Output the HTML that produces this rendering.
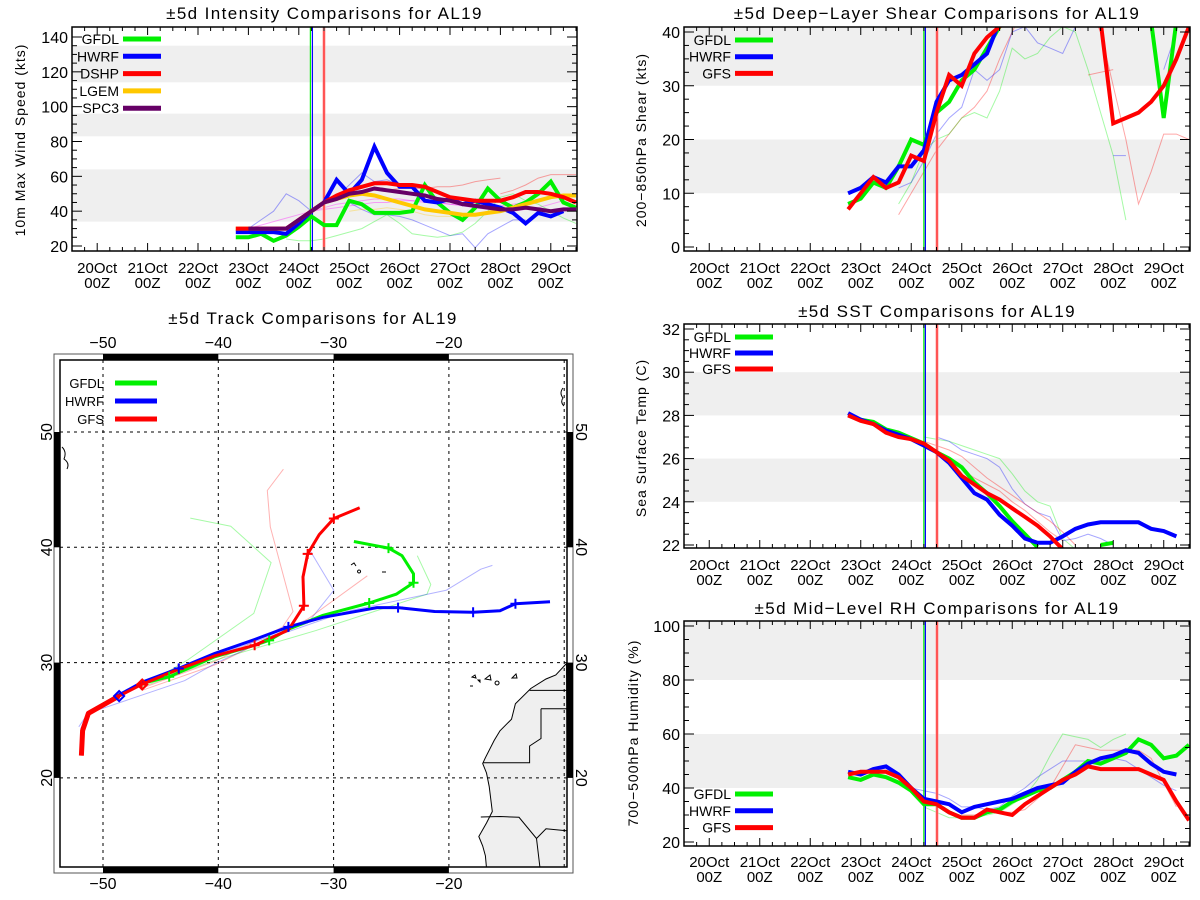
<!DOCTYPE html>
<html><head><meta charset="utf-8"><style>
body{margin:0;background:#fff;}
svg{display:block;font-family:"Liberation Sans",sans-serif;}
</style></head><body>
<svg id="root" width="1200" height="900" viewBox="0 0 1200 900"></svg>
<script>
// ---------- DATA ----------
const T0 = 22.75, DT = 0.25;
const dayLabels = ["20Oct","21Oct","22Oct","23Oct","24Oct","25Oct","26Oct","27Oct","28Oct","29Oct"];
const dayTicks = [20,21,22,23,24,25,26,27,28,29];
// Intensity (kt), 6-hourly from 22.75
const intGFDL = [25,25,27,23,26,31,37,32,32,46,44,39,39,39,40,55,45,39,35,42,53,46,42,45,50,57,45,42];
const intHWRF = [28,28,28,28,27,33,40,45,58,50,58,77,62,54,54,46,45,47,44,46,44,42,39,33,39,37,40,null];
const intDSHP = [30,30,30,30,30,35,40,45,49,52,54,56,56,55,55,54,51,48,47,46,46,46,48,51,51,50,48,45];
const intLGEM = [30,30,30,30,30,35,40,45,47,49,50,49,47,45,43,41,40,39,38,38,39,40,42,44,46,48,49,49];
const intSPC3 = [null,30,30,30,30,35,40,45,47,50,51,53,52,51,50,49,47,46,44,43,42,41,41,42,41,40,41,41];
const intThinMag1 = [30,32,34,36,38,40,41,42,43,44,45,45,46,46,46,45,44,43,42,41,40,40,41,42,44,46];
const intThinMag2 = [40,42,44,45,46,47,47,47,46,45,45,44,44,43,43,43,44,45,47,48,49];
const intThinBlue1 = [30,35,40,50,46,40,44,48,55,62,57,58,55,54,53];
const intThinBlue2 = [45,41,38,38,37,35,32,29,26,27,19,27,31,35,35];
const intThinGreen = [24,23,23,24,26,28,30,34,38,33,27,26,25,26,28,33,40,48,50,46,44,40,36,33];
const intThinRed = [52,52,53,53,53,54,54,55,57,58,59];
const intThinRed2 = [50,52,55,59,61,61,61];
const intThinYel = [40,41,41,42,41,40,38,37,37,37,38,40,42,44];
// Shear (kt)
const shrGFDL = [8,9,12,11,15,20,19,25,27,31,33,37,41,45,45,45,45,45,45,45,45,45,45,45,42,24,42];
const shrHWRF = [10,11,13,12,15,15,18,27,31,32,34,36,42,45];
const shrGFS  = [7,10,13,11,12,17,16,25,32,30,36,39,41,45,45,45,45,45,45,45,42,23,24,25,27,30,35,41];
const shrThinRed1 = [6,10,14,18,21,24,26,29,35,40,45,45,45,45,45,45,40,30,20,8,14,21,21,20];
const shrThinRed2 = [32,32.5,33];
const shrThinGreen1 = [8,12,18,20,21,24,25,24,29,37,35,36,39,41,40];
const shrThinGreen2 = [40,33,25,17,5];
const shrThinBlue1 = [11,12,16,21,24,26,33,31,33,40,41,38,37,36,41];
const shrThinBlue2 = [17,17];
const shrThinBlue3 = [33,40];
// SST (C)
const sstGFDL = [28.0,27.8,27.7,27.35,27.2,26.95,26.7,26.3,26.0,25.6,24.9,24.4,23.8,23.1,22.5,21.9];
const sstGFDL2 = [22.0,22.1];
const sstHWRF = [28.1,27.8,27.6,27.3,27.1,26.9,26.6,26.3,25.8,25.1,24.4,24.1,23.4,22.9,22.3,22.1,22.1,22.4,22.75,22.95,23.05,23.05,23.05,23.05,22.75,22.65,22.4];
const sstGFS  = [28.0,27.75,27.6,27.2,27.0,26.9,26.7,26.3,25.9,25.2,24.8,24.4,24.1,23.7,23.3,22.9,22.4,21.8];
const sstThinGreen = [27.0,26.9,26.8,26.6,26.4,26.2,26.0,25.3,24.5,24.0,23.8,22.3,21.8];
const sstThinBlue = [27.0,26.8,26.4,26.2,26.0,25.6,24.6,23.9,23.5,23.3,22.2,22.3,22.5,22.3,22.0];
const sstThinRed1 = [26.8,26.6,26.4,26.1,25.6,25.1,24.7,24.3,23.9,23.5,23.1,22.6,22.0];
const sstThinRed2 = [25.5,25.1,24.8,24.5,24.0,23.6,23.1,22.6,22.2];
// RH (%)
const rhGFDL = [44,43,45,44,42,39,34,34,31,29,29,31,32,35,37,39,40,43,46,50,49,51,53,58,56,51,52,56];
const rhHWRF = [46,45,47,48,45,40,36,35,34,31,33,34,35,36,38,40,41,42,46,49,51,52,54,53,49,46,45];
const rhGFS  = [45,46,46,46,44,40,35,34,31,29,29,32,31,30,34,37,40,43,45,48,47,47,47,47,45,43,35,28];
const rhThinGreen = [33,31,29,29,29,30,31,34,37,43,52,60,59,58,55,58,60];
const rhThinRed = [30,30,31,31,31,32,36,40,48,56,55,54,54,54,54,51,42,33];
const rhThinBlue = [40,39,38,36,33,33,32,33,37,40,44,47,50,50,50,50,51,50,47,44,41,39];
// Track (lon, lat)
const trkGFSlon = [-51.87,-51.77,-51.27,-48.6,-46.66,-43.43,-40.26,-36.85,-33.92,-32.58,-32.65,-32.25,-31.25,-29.98,-27.74];
const trkGFSlat = [21.93,24.1,25.6,27.1,28.1,29.43,30.6,31.5,32.83,34.93,37.43,39.43,41.1,42.5,43.43];
const trkGFDLlon = [-51.9,-51.8,-51.2,-48.6,-46.6,-44.26,-40.3,-36.85,-35.59,-33.92,-30.91,-26.91,-24.57,-23.07,-23.07,-24.07,-25.24,-28.24];
const trkGFDLlat = [22.0,24.2,25.7,27.2,28.2,28.77,30.5,31.5,31.93,32.9,34.1,35.17,35.93,36.93,37.7,39.27,39.93,40.5];
const trkHWRFlon = [-51.9,-51.8,-51.2,-48.6,-46.6,-43.43,-40.3,-36.85,-33.92,-30.91,-26.24,-24.41,-21.24,-17.9,-15.57,-14.23,-11.23];
const trkHWRFlat = [22.0,24.3,25.7,27.2,28.3,29.5,30.8,32.0,33.1,33.93,34.77,34.77,34.43,34.37,34.5,35.1,35.27];
const thinGreenAlon = [-46.6,-44.9,-42.6,-36.92,-35.42,-38.92,-42.43];
const thinGreenAlat = [28.1,28.9,30.27,34.27,38.67,41.83,42.53];
const thinRedAlon = [-46.6,-40.3,-34.42,-33.52,-35.49,-35.75,-34.35];
const thinRedAlat = [27.8,30.1,33.1,34.43,41.77,44.93,46.77];
const thinBlueAlon = [-46.6,-40.3,-32.25,-30.92,-29.98,-31.98];
const thinBlueAlat = [28.3,30.6,33.43,35.1,36.27,39.6];
const thinRedBlon = [-46.6,-40.3,-32.25,-27.08];
const thinRedBlat = [27.6,29.8,33.77,37.53];
const thinGreenBlon = [-46.6,-40.3,-31.58,-21.9,-21.57,-22.74];
const thinGreenBlat = [27.9,30.2,32.77,35.93,36.77,39.27];
const thinBlueBlon = [-52.1,-51.3,-42.93,-40.26,-35.59,-28.91,-20.23,-17.23,-16.23];
const thinBlueBlat = [24.43,25.6,28.43,29.93,32.1,34.43,36.27,38.1,38.43];
</script>
<script>
const NS = "http://www.w3.org/2000/svg";
const root = document.getElementById("root");
function mk(tag, attrs, parent) {
  const e = document.createElementNS(NS, tag);
  for (const k in attrs) e.setAttribute(k, attrs[k]);
  (parent || root).appendChild(e);
  return e;
}
function txt(s, x, y, size, anchor, parent, name) {
  const t = mk("text", {x: x, y: y, "font-size": size, "text-anchor": anchor || "middle", fill: "#000"}, parent);
  t.textContent = s;
  
  
  return t;
}
const GREEN = "#00f000", BLUE = "#0000ff", RED = "#ff0000", YEL = "#ffc800", PURP = "#660066", MAG = "#ff00ff";
let clipId = 0;

function panel(cfg) {
  const g = mk("g", {});
  
  
  const X = d => cfg.x0 + (d - 19.5) / (29.52 - 19.5) * (cfg.x1 - cfg.x0);
  const Y = v => cfg.yA + (v - cfg.vA) / (cfg.vB - cfg.vA) * (cfg.yB - cfg.yA);
  const id = "clip" + (clipId++);
  const cp = mk("clipPath", {id: id}, g);
  mk("rect", {x: cfg.x0, y: cfg.y0, width: cfg.x1 - cfg.x0, height: cfg.y1 - cfg.y0}, cp);
  const plot = mk("g", {"clip-path": "url(#" + id + ")"}, g);
  
  
  cfg.bands.forEach(b => {
    const r = mk("rect", {x: cfg.x0, y: Y(b[1]), width: cfg.x1 - cfg.x0, height: Y(b[0]) - Y(b[1]), fill: "#efefef"}, plot);
    
    
  });
  cfg.thin.forEach(s => {
    const p = pathFrom(s[1], s[0], X, Y);
    const el = mk("path", {d: p, fill: "none", stroke: s[2], "stroke-width": 1, "stroke-opacity": 0.35}, plot);
    
    
  });
  const vl = [[cfg.vg, GREEN], [cfg.vb, BLUE]];
  const pk = mk("line", {x1: X(cfg.vr), x2: X(cfg.vr), y1: cfg.y0, y2: cfg.y1, stroke: "#ffaaaa", "stroke-width": 3}, plot);
  
  
  const rl = mk("line", {x1: X(cfg.vr), x2: X(cfg.vr), y1: cfg.y0, y2: cfg.y1, stroke: RED, "stroke-width": 1}, plot);
  
  
  vl.forEach(v => {
    const l = mk("line", {x1: X(v[0]), x2: X(v[0]), y1: cfg.y0, y2: cfg.y1, stroke: v[1], "stroke-width": 1.2}, plot);
    
    
  });
  cfg.thick.forEach(s => {
    const p = pathFrom(s[1], s[0], X, Y);
    const el = mk("path", {d: p, fill: "none", stroke: s[2], "stroke-width": 4, "stroke-linejoin": "miter", "stroke-miterlimit": 3}, plot);
    
    
  });
  const fr = mk("rect", {x: cfg.x0, y: cfg.y0, width: cfg.x1 - cfg.x0, height: cfg.y1 - cfg.y0, fill: "none", stroke: "#000", "stroke-width": 1.5}, g);
  
  
  for (let d = 19.5; d <= 29.52; d += 0.25) {
    const major = Math.abs(d - Math.round(d)) < 0.01;
    const len = major ? 8 : 4;
    mk("line", {x1: X(d), x2: X(d), y1: cfg.y1, y2: cfg.y1 - len, stroke: "#000", "stroke-width": 1}, g);
    mk("line", {x1: X(d), x2: X(d), y1: cfg.y0, y2: cfg.y0 + len, stroke: "#000", "stroke-width": 1}, g);
  }
  dayTicks.forEach((d, i) => {
    txt(dayLabels[i], X(d), cfg.lab1, 15, "middle", g, 'x-tick-label');
    txt("00Z", X(d), cfg.lab2, 15, "middle", g, 'x-tick-label-hour');
  });
  for (let v = cfg.ymin; v <= cfg.ymax + 1e-6; v += cfg.minor) {
    const major = Math.abs((v - cfg.ymin) / cfg.step - Math.round((v - cfg.ymin) / cfg.step)) < 1e-6;
    const len = major ? 10 : 5;
    mk("line", {x1: cfg.x0, x2: cfg.x0 + len, y1: Y(v), y2: Y(v), stroke: "#000"}, g);
    mk("line", {x1: cfg.x1, x2: cfg.x1 - len, y1: Y(v), y2: Y(v), stroke: "#000"}, g);
    if (major) txt(String(Math.round(v)), cfg.x0 - 4, Y(v) + 6, 16, "end", g, 'y-tick-label');
  }
  const tt = txt(cfg.title, (cfg.x0 + cfg.x1) / 2, cfg.titleY, 17, "middle", g, 'chart-title');
  tt.setAttribute("letter-spacing", "1.4");
  const yt = txt(cfg.ytitle, 0, 0, 14, "middle", g, 'y-axis-title');
  yt.setAttribute("letter-spacing", "1");
  yt.setAttribute("transform", "translate(" + cfg.ytX + "," + cfg.ytY + ") rotate(-90)");
  cfg.legend.forEach((L, i) => {
    const y = cfg.legY + i * cfg.legDY;
    txt(L[0], cfg.legTX, y + 5, 14, "end", g, 'legend-label');
    const sw = mk("line", {x1: cfg.legTX + 4, x2: cfg.legTX + 42, y1: y, y2: y, stroke: L[1], "stroke-width": 5}, g);
    
    
  });
}
function pathFrom(vals, start, X, Y) {
  let d = "", pen = false;
  vals.forEach((v, i) => {
    if (v === null) { pen = false; return; }
    const t = start + i * DT;
    d += (pen ? "L" : "M") + X(t).toFixed(1) + " " + Y(v).toFixed(1);
    pen = true;
  });
  return d;
}

panel({name: "intensity-panel", x0: 72, x1: 577, y0: 27, y1: 251, yA: 246, vA: 20, yB: 37, vB: 140,
  ymin: 20, ymax: 140, step: 20, minor: 5, lab1: 273, lab2: 288,
  bands: [[34, 64], [83, 96], [114, 135]],
  vg: 24.23, vb: 24.27, vr: 24.5,
  title: "±5d Intensity Comparisons for AL19", titleY: 19, ytitle: "10m Max Wind Speed (kts)", ytX: 25, ytY: 140,
  legTX: 119, legY: 39, legDY: 17.3,
  legend: [["GFDL", GREEN], ["HWRF", BLUE], ["DSHP", RED], ["LGEM", YEL], ["SPC3", PURP]],
  thin: [[23.0, intThinMag1, MAG], [24.25, intThinMag2, MAG], [23.0, intThinBlue1, BLUE], [25.0, intThinBlue2, BLUE],
         [23.75, intThinGreen, GREEN], [25.5, intThinRed, RED], [28.0, intThinRed2, RED], [25.0, intThinYel, YEL]],
  thick: [[T0, intGFDL, GREEN, "gfdl"], [T0, intHWRF, BLUE, "hwrf"], [T0, intLGEM, YEL, "lgem"], [T0, intDSHP, RED, "dshp"], [T0, intSPC3, PURP, "spc3"]]
});
panel({name: "shear-panel", x0: 684, x1: 1190, y0: 27, y1: 251, yA: 247, vA: 0, yB: 32, vB: 40,
  ymin: 0, ymax: 40, step: 10, minor: 2.5, lab1: 273, lab2: 288,
  bands: [[10, 20], [30, 45]],
  vg: 24.25, vb: 24.28, vr: 24.51,
  title: "±5d Deep−Layer Shear Comparisons for AL19", titleY: 19, ytitle: "200−850hPa Shear (kts)", ytX: 646, ytY: 140,
  legTX: 731, legY: 40, legDY: 16.7,
  legend: [["GFDL", GREEN], ["HWRF", BLUE], ["GFS", RED]],
  thin: [[23.75, shrThinRed1, RED], [27.5, shrThinRed2, RED], [23.75, shrThinGreen1, GREEN], [27.25, shrThinGreen2, GREEN],
         [23.75, shrThinBlue1, BLUE], [28.0, shrThinBlue2, BLUE], [29.0, shrThinBlue3, BLUE]],
  thick: [[T0, shrGFDL, GREEN, "gfdl"], [T0, shrHWRF, BLUE, "hwrf"], [T0, shrGFS, RED, "gfs"]]
});
panel({name: "sst-panel", x0: 684, x1: 1190, y0: 324, y1: 548, yA: 545, vA: 22, yB: 329, vB: 32,
  ymin: 22, ymax: 32, step: 2, minor: 0.5, lab1: 570, lab2: 585,
  bands: [[24, 26], [28, 30]],
  vg: 24.25, vb: 24.28, vr: 24.51,
  title: "±5d SST Comparisons for AL19", titleY: 317, ytitle: "Sea Surface Temp (C)", ytX: 646, ytY: 438,
  legTX: 731, legY: 337, legDY: 16,
  legend: [["GFDL", GREEN], ["HWRF", BLUE], ["GFS", RED]],
  thin: [[24.25, sstThinGreen, GREEN], [24.5, sstThinBlue, BLUE], [24.25, sstThinRed1, RED], [25.0, sstThinRed2, RED]],
  thick: [[T0, sstGFDL, GREEN, "gfdl"], [27.75, sstGFDL2, GREEN, "gfdl-late"], [T0, sstHWRF, BLUE, "hwrf"], [T0, sstGFS, RED, "gfs"]]
});
panel({name: "rh-panel", x0: 684, x1: 1190, y0: 621, y1: 846, yA: 842, vA: 20, yB: 626, vB: 100,
  ymin: 20, ymax: 100, step: 20, minor: 5, lab1: 867, lab2: 882,
  bands: [[40, 60], [80, 105]],
  vg: 24.25, vb: 24.28, vr: 24.51,
  title: "±5d Mid−Level RH Comparisons for AL19", titleY: 614, ytitle: "700−500hPa Humidity (%)", ytX: 638, ytY: 733,
  legTX: 731, legY: 794, legDY: 16.8,
  legend: [["GFDL", GREEN], ["HWRF", BLUE], ["GFS", RED]],
  thin: [[24.25, rhThinGreen, GREEN], [25.0, rhThinRed, RED], [24.0, rhThinBlue, BLUE]],
  thick: [[T0, rhGFDL, GREEN, "gfdl"], [T0, rhHWRF, BLUE, "hwrf"], [T0, rhGFS, RED, "gfs"]]
});

(function () {
  const g = mk("g", {});
  
  
  const LX = lon => 103 + (lon + 50) * 11.53;
  const LY = lat => 432 - (lat - 50) * 11.53;
  const ix0 = 60, ix1 = 567, iy0 = 360, iy1 = 867;
  const cp = mk("clipPath", {id: "mapclip"}, g);
  mk("rect", {x: ix0, y: iy0, width: ix1 - ix0, height: iy1 - iy0}, cp);
  const m = mk("g", {"clip-path": "url(#mapclip)"}, g);
  const land = mk("path", {d: "M566.5 663.5 L555.8 675 L546 679 L530.8 688.5 L515.4 703.8 L511.5 719.2 L500 730.8 L494.2 740.4 L485.4 757.7 L482.7 763.5 L486.5 773 L489.2 786.5 L492.3 811.5 L486.5 823 L478.8 836.5 L482.7 846 L485.4 855.8 L486.5 868 L568 868 Z", fill: "#efefef", stroke: "#000", "stroke-width": 1}, m);
  
  
  const bord = mk("path", {d: "M529.6 690.4 L567 690.4 M541 708.8 L567 708.8 M541 708.8 L541 738.5 L529.6 746 L529.6 762.7 L483.5 762.7 M480.8 817 L500 816.5 L519 817.3 L536.5 838.5 L546 828.8 L566.5 830.8 M536.5 838.5 L540 868", fill: "none", stroke: "#000", "stroke-width": 1}, m);
  
  
  const isl = mk("path", {d: "M472 677 l3 -2 l1 3 z M478 680 l2 0 l0 2 z M485 679 l5 -4 l1 5 z M497 681 a2 2 0 1 0 0.1 0 M512 678 l4 -4 l1 4 z M470 686 l3 0 M351 565 l3 -2 l2 3 M359 570 a1.5 1.5 0 1 0 0.1 0 M382 572 l4 0 M62 447 q5 5 2 12 q6 4 3 10 M563 388 q-4 5 0 10 q-3 4 1 8", fill: "none", stroke: "#000", "stroke-width": 1}, m);
  
  
  [-50, -40, -30, -20, -10].forEach(lon => {
    const l = mk("line", {x1: LX(lon), x2: LX(lon), y1: iy0, y2: iy1, stroke: "#000", "stroke-width": 1, "stroke-dasharray": "3,4"}, m);
    
    
  });
  [20, 30, 40, 50].forEach(lat => {
    const l = mk("line", {x1: ix0, x2: ix1, y1: LY(lat), y2: LY(lat), stroke: "#000", "stroke-width": 1, "stroke-dasharray": "3,4"}, m);
    
    
  });
  function track(lons, lats, color, w, op, name) {
    let d = "";
    lons.forEach((lo, i) => { d += (i ? "L" : "M") + LX(lo).toFixed(1) + " " + LY(lats[i]).toFixed(1); });
    const p = mk("path", {d: d, fill: "none", stroke: color, "stroke-width": w, "stroke-opacity": op, "stroke-linejoin": "round"}, m);
    
    
  }
  track(thinGreenAlon, thinGreenAlat, GREEN, 1, 0.35, 'ensemble-track');
  track(thinRedAlon, thinRedAlat, RED, 1, 0.3, 'ensemble-track');
  track(thinBlueAlon, thinBlueAlat, BLUE, 1, 0.3, 'ensemble-track');
  track(thinRedBlon, thinRedBlat, RED, 1, 0.3, 'ensemble-track');
  track(thinGreenBlon, thinGreenBlat, GREEN, 1, 0.35, 'ensemble-track');
  track(thinBlueBlon, thinBlueBlat, BLUE, 1, 0.3, 'ensemble-track');
  track(trkGFDLlon, trkGFDLlat, GREEN, 3, 1, 'gfdl-track');
  track(trkHWRFlon, trkHWRFlat, BLUE, 3, 1, 'hwrf-track');
  track(trkGFSlon, trkGFSlat, RED, 3, 1, 'gfs-track');
  track(trkGFSlon.slice(0, 4), trkGFSlat.slice(0, 4), RED, 5, 1, 'gfs-track-start');
  function cross(lon, lat, color) {
    const x = LX(lon), y = LY(lat);
    const c = mk("path", {d: "M" + (x - 5) + " " + y + "h10M" + x + " " + (y - 5) + "v10", stroke: color, "stroke-width": 2}, m);
    
    
  }
  [4, 5, 7, 9, 11, 13].forEach(i => cross(trkGFSlon[i], trkGFSlat[i], RED));
  [5, 8, 11, 13, 16].forEach(i => cross(trkGFDLlon[i], trkGFDLlat[i], GREEN));
  [5, 8, 11, 13, 15].forEach(i => cross(trkHWRFlon[i], trkHWRFlat[i], BLUE));
  function diamond(lon, lat, color) {
    const x = LX(lon), y = LY(lat);
    const d = mk("path", {d: "M" + x + " " + (y - 5) + "l5 5l-5 5l-5 -5z", fill: "none", stroke: color, "stroke-width": 2}, m);
    
    
  }
  diamond(-48.6, 27.1, BLUE);
  diamond(-46.6, 28.1, RED);
  const of = mk("rect", {x: 54, y: 354, width: 519, height: 519, fill: "none", stroke: "#555", "stroke-width": 1}, g);
  
  
  const inf = mk("rect", {x: ix0, y: iy0, width: ix1 - ix0, height: iy1 - iy0, fill: "none", stroke: "#000", "stroke-width": 1.5}, g);
  
  
  [[-50, -40], [-30, -20]].forEach(b => {
    mk("rect", {x: LX(b[0]), y: 354, width: LX(b[1]) - LX(b[0]), height: 6, fill: "#000"}, g);
    mk("rect", {x: LX(b[0]), y: 867, width: LX(b[1]) - LX(b[0]), height: 6, fill: "#000"}, g);
  });
  [[40, 50], [20, 30]].forEach(b => {
    mk("rect", {x: 54, y: LY(b[1]), width: 6, height: LY(b[0]) - LY(b[1]), fill: "#000"}, g);
    mk("rect", {x: 567, y: LY(b[1]), width: 6, height: LY(b[0]) - LY(b[1]), fill: "#000"}, g);
  });
  [-50, -40, -30, -20].forEach(lon => {
    txt("−" + Math.abs(lon), LX(lon), 348, 16, "middle", g, 'longitude-label-top');
    txt("−" + Math.abs(lon), LX(lon), 889, 16, "middle", g, 'longitude-label-bottom');
  });
  [20, 30, 40, 50].forEach(lat => {
    const a = txt(String(lat), 0, 0, 16, "middle", g, 'latitude-label-left');
    a.setAttribute("transform", "translate(52," + LY(lat) + ") rotate(-90)");
    const b = txt(String(lat), 0, 0, 16, "middle", g, 'latitude-label-right');
    b.setAttribute("transform", "translate(576," + LY(lat) + ") rotate(90)");
  });
  const mt = txt("±5d Track Comparisons for AL19", 313, 324, 17, "middle", g, 'chart-title');
  mt.setAttribute("letter-spacing", "1.4");
  [["GFDL", GREEN], ["HWRF", BLUE], ["GFS", RED]].forEach((L, i) => {
    const y = 383 + i * 18;
    txt(L[0], 104, y + 5, 13, "end", g, 'legend-label');
    const sw = mk("line", {x1: 115, x2: 157, y1: y, y2: y, stroke: L[1], "stroke-width": 5}, g);
    
    
  });
})();
</script>
</body></html>
